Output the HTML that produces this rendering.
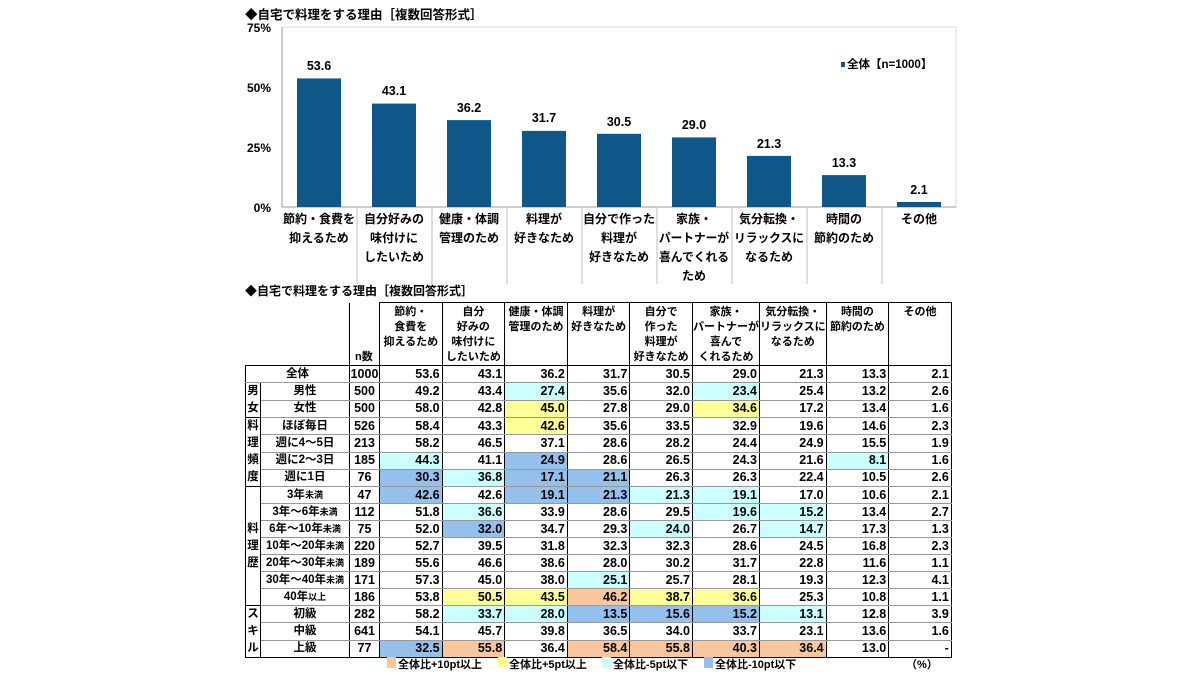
<!DOCTYPE html>
<html><head><meta charset="utf-8">
<style>
body{margin:0;background:#fff;width:1200px;height:675px;overflow:hidden;position:relative;font-family:"Liberation Sans","Noto Sans CJK JP",sans-serif;font-weight:bold;color:#000}
svg{position:absolute;left:0;top:0}
svg text{font-family:"Liberation Sans","Noto Sans CJK JP",sans-serif;font-weight:bold}
.t{position:absolute;font-size:11px;white-space:nowrap}
table{position:absolute;left:245px;top:302px;border-collapse:collapse;table-layout:fixed;font-size:12px}
td{padding:0;height:16px;border:1px solid #000;border-top:1px solid #999;border-bottom:1px solid #999;line-height:15px;overflow:hidden;white-space:nowrap}
td.v{text-align:right;padding-right:2px;font-size:12.5px}
td.n{text-align:center;font-size:12.5px}
td.l{text-align:center;font-size:11.5px}
td.g{vertical-align:top;text-align:center;font-size:11.5px;line-height:17px;border-top:1px solid #000;border-bottom:1px solid #000}
tr.gs td{border-top:1px solid #000}
.h td{height:57px;vertical-align:top;text-align:center;font-size:11px;line-height:15px;border-top:1px solid #000;border-bottom:1px solid #000;padding-top:2px}
.h td.e{border:none}
.h td.nn{border-left:1px solid #000;border-top:none;vertical-align:bottom;text-align:left;padding:0 0 0 5px}
.o{background:#fac79c}.y{background:#ffff99}.c{background:#ccffff}.b{background:#95c0ec}
small{font-size:9px}
.sw{position:absolute;top:657px;width:9px;height:11px}
</style></head><body>
<svg width="1200" height="300" viewBox="0 0 1200 300">
<text x="245" y="19" font-size="12.5">◆自宅で料理をする理由［複数回答形式］</text>
<g font-size="12" text-anchor="end">
<text x="271" y="32">75%</text><text x="271" y="92">50%</text><text x="271" y="152">25%</text><text x="271" y="212">0%</text>
</g>
<rect x="282" y="27" width="674" height="180" fill="none" stroke="#d9d9d9"/>
<line x1="282" y1="27" x2="282" y2="207" stroke="#999"/>
<line x1="282" y1="207" x2="956" y2="207" stroke="#999"/>
<g stroke="#bfbfbf">
<line x1="357" y1="207" x2="357" y2="284"/><line x1="432" y1="207" x2="432" y2="284"/><line x1="507" y1="207" x2="507" y2="284"/><line x1="582" y1="207" x2="582" y2="284"/><line x1="657" y1="207" x2="657" y2="284"/><line x1="732" y1="207" x2="732" y2="284"/><line x1="807" y1="207" x2="807" y2="284"/><line x1="882" y1="207" x2="882" y2="284"/>
</g>
<g fill="#0f5788">
<rect x="297" y="78.4" width="44" height="128.6"/>
<rect x="372" y="103.6" width="44" height="103.4"/>
<rect x="447" y="120.1" width="44" height="86.9"/>
<rect x="522" y="130.9" width="44" height="76.1"/>
<rect x="597" y="133.8" width="44" height="73.2"/>
<rect x="672" y="137.4" width="44" height="69.6"/>
<rect x="747" y="155.9" width="44" height="51.1"/>
<rect x="822" y="175.1" width="44" height="31.9"/>
<rect x="897" y="202" width="44" height="5"/>
</g>
<g font-size="12.5" text-anchor="middle">
<text x="319" y="70">53.6</text><text x="394" y="95">43.1</text><text x="469" y="112">36.2</text><text x="544" y="122">31.7</text><text x="619" y="126">30.5</text><text x="694" y="129">29.0</text><text x="769" y="148">21.3</text><text x="844" y="167">13.3</text><text x="919" y="194">2.1</text>
</g>
<rect x="841" y="62" width="4" height="5" fill="#0f5788"/>
<text x="847" y="68" font-size="11.5">全体【n=1000】</text>
<g font-size="12" text-anchor="middle">
<text x="319" y="223">節約・食費を</text><text x="319" y="242">抑えるため</text>
<text x="394" y="223">自分好みの</text><text x="394" y="242">味付けに</text><text x="394" y="261">したいため</text>
<text x="469" y="223">健康・体調</text><text x="469" y="242">管理のため</text>
<text x="544" y="223">料理が</text><text x="544" y="242">好きなため</text>
<text x="619" y="223">自分で作った</text><text x="619" y="242">料理が</text><text x="619" y="261">好きなため</text>
<text x="694" y="223">家族・</text><text x="694" y="242" textLength="70" lengthAdjust="spacingAndGlyphs">パートナーが</text><text x="694" y="261" textLength="70" lengthAdjust="spacingAndGlyphs">喜んでくれる</text><text x="694" y="280">ため</text>
<text x="769" y="223">気分転換・</text><text x="769" y="242" textLength="70" lengthAdjust="spacingAndGlyphs">リラックスに</text><text x="769" y="261">なるため</text>
<text x="844" y="223">時間の</text><text x="844" y="242">節約のため</text>
<text x="919" y="223">その他</text>
</g>
<text x="245" y="295" font-size="12">◆自宅で料理をする理由［複数回答形式］</text>
</svg>

<table>
<colgroup><col style="width:15px"><col style="width:89px"><col style="width:30px"><col style="width:62.6px"><col style="width:62.6px"><col style="width:62.6px"><col style="width:62.6px"><col style="width:62.6px"><col style="width:62.6px"><col style="width:62.6px"><col style="width:62.6px"><col style="width:62.6px"></colgroup>
<tr class="h"><td class="e"></td><td class="e"></td><td class="nn">n数</td><td>節約・<br>食費を<br>抑えるため</td><td>自分<br>好みの<br>味付けに<br>したいため</td><td>健康・体調<br>管理のため</td><td>料理が<br>好きなため</td><td>自分で<br>作った<br>料理が<br>好きなため</td><td>家族・<br>パートナーが<br>喜んで<br>くれるため</td><td>気分転換・<br>リラックスに<br>なるため</td><td>時間の<br>節約のため</td><td>その他</td></tr>
<tr class="gs"><td class="l" colspan="2">全体</td><td class="n">1000</td><td class="v">53.6</td><td class="v">43.1</td><td class="v">36.2</td><td class="v">31.7</td><td class="v">30.5</td><td class="v">29.0</td><td class="v">21.3</td><td class="v">13.3</td><td class="v">2.1</td></tr>
<tr class="gs"><td class="g" rowspan="2">男<br>女</td><td class="l">男性</td><td class="n">500</td><td class="v">49.2</td><td class="v">43.4</td><td class="v c">27.4</td><td class="v">35.6</td><td class="v">32.0</td><td class="v c">23.4</td><td class="v">25.4</td><td class="v">13.2</td><td class="v">2.6</td></tr>
<tr><td class="l">女性</td><td class="n">500</td><td class="v">58.0</td><td class="v">42.8</td><td class="v y">45.0</td><td class="v">27.8</td><td class="v">29.0</td><td class="v y">34.6</td><td class="v">17.2</td><td class="v">13.4</td><td class="v">1.6</td></tr>
<tr class="gs"><td class="g" rowspan="4">料<br>理<br>頻<br>度</td><td class="l">ほぼ毎日</td><td class="n">526</td><td class="v">58.4</td><td class="v">43.3</td><td class="v y">42.6</td><td class="v">35.6</td><td class="v">33.5</td><td class="v">32.9</td><td class="v">19.6</td><td class="v">14.6</td><td class="v">2.3</td></tr>
<tr><td class="l">週に4～5日</td><td class="n">213</td><td class="v">58.2</td><td class="v">46.5</td><td class="v">37.1</td><td class="v">28.6</td><td class="v">28.2</td><td class="v">24.4</td><td class="v">24.9</td><td class="v">15.5</td><td class="v">1.9</td></tr>
<tr><td class="l">週に2～3日</td><td class="n">185</td><td class="v c">44.3</td><td class="v">41.1</td><td class="v b">24.9</td><td class="v">28.6</td><td class="v">26.5</td><td class="v">24.3</td><td class="v">21.6</td><td class="v c">8.1</td><td class="v">1.6</td></tr>
<tr><td class="l">週に1日</td><td class="n">76</td><td class="v b">30.3</td><td class="v c">36.8</td><td class="v b">17.1</td><td class="v b">21.1</td><td class="v">26.3</td><td class="v">26.3</td><td class="v">22.4</td><td class="v">10.5</td><td class="v">2.6</td></tr>
<tr class="gs"><td class="g" rowspan="7" style="padding-top:34px;height:auto">料<br>理<br>歴</td><td class="l">3年<small>未満</small></td><td class="n">47</td><td class="v b">42.6</td><td class="v">42.6</td><td class="v b">19.1</td><td class="v b">21.3</td><td class="v c">21.3</td><td class="v c">19.1</td><td class="v">17.0</td><td class="v">10.6</td><td class="v">2.1</td></tr>
<tr><td class="l">3年～6年<small>未満</small></td><td class="n">112</td><td class="v">51.8</td><td class="v c">36.6</td><td class="v">33.9</td><td class="v">28.6</td><td class="v">29.5</td><td class="v c">19.6</td><td class="v c">15.2</td><td class="v">13.4</td><td class="v">2.7</td></tr>
<tr><td class="l">6年～10年<small>未満</small></td><td class="n">75</td><td class="v">52.0</td><td class="v b">32.0</td><td class="v">34.7</td><td class="v">29.3</td><td class="v c">24.0</td><td class="v">26.7</td><td class="v c">14.7</td><td class="v">17.3</td><td class="v">1.3</td></tr>
<tr><td class="l">10年～20年<small>未満</small></td><td class="n">220</td><td class="v">52.7</td><td class="v">39.5</td><td class="v">31.8</td><td class="v">32.3</td><td class="v">32.3</td><td class="v">28.6</td><td class="v">24.5</td><td class="v">16.8</td><td class="v">2.3</td></tr>
<tr><td class="l">20年～30年<small>未満</small></td><td class="n">189</td><td class="v">55.6</td><td class="v">46.6</td><td class="v">38.6</td><td class="v">28.0</td><td class="v">30.2</td><td class="v">31.7</td><td class="v">22.8</td><td class="v">11.6</td><td class="v">1.1</td></tr>
<tr><td class="l">30年～40年<small>未満</small></td><td class="n">171</td><td class="v">57.3</td><td class="v">45.0</td><td class="v">38.0</td><td class="v c">25.1</td><td class="v">25.7</td><td class="v">28.1</td><td class="v">19.3</td><td class="v">12.3</td><td class="v">4.1</td></tr>
<tr><td class="l">40年<small>以上</small></td><td class="n">186</td><td class="v">53.8</td><td class="v y">50.5</td><td class="v y">43.5</td><td class="v o">46.2</td><td class="v y">38.7</td><td class="v y">36.6</td><td class="v">25.3</td><td class="v">10.8</td><td class="v">1.1</td></tr>
<tr class="gs"><td class="g" rowspan="3">ス<br>キ<br>ル</td><td class="l">初級</td><td class="n">282</td><td class="v">58.2</td><td class="v c">33.7</td><td class="v c">28.0</td><td class="v b">13.5</td><td class="v b">15.6</td><td class="v b">15.2</td><td class="v c">13.1</td><td class="v">12.8</td><td class="v">3.9</td></tr>
<tr><td class="l">中級</td><td class="n">641</td><td class="v">54.1</td><td class="v">45.7</td><td class="v">39.8</td><td class="v">36.5</td><td class="v">34.0</td><td class="v">33.7</td><td class="v">23.1</td><td class="v">13.6</td><td class="v">1.6</td></tr>
<tr><td class="l" style="border-bottom:1px solid #000">上級</td><td class="n" style="border-bottom:1px solid #000">77</td><td class="v b" style="border-bottom:1px solid #000">32.5</td><td class="v o" style="border-bottom:1px solid #000">55.8</td><td class="v" style="border-bottom:1px solid #000">36.4</td><td class="v o" style="border-bottom:1px solid #000">58.4</td><td class="v o" style="border-bottom:1px solid #000">55.8</td><td class="v o" style="border-bottom:1px solid #000">40.3</td><td class="v o" style="border-bottom:1px solid #000">36.4</td><td class="v" style="border-bottom:1px solid #000">13.0</td><td class="v" style="border-bottom:1px solid #000">-</td></tr>
</table>

<div class="sw o" style="left:387px"></div><div class="t" style="left:398px;top:656px">全体比+10pt以上</div>
<div class="sw y" style="left:498px"></div><div class="t" style="left:509px;top:656px">全体比+5pt以上</div>
<div class="sw c" style="left:602px"></div><div class="t" style="left:613px;top:656px">全体比-5pt以下</div>
<div class="sw b" style="left:704px"></div><div class="t" style="left:715px;top:656px">全体比-10pt以下</div>
<div class="t" style="left:906px;top:656px">（%）</div>
</body></html>
